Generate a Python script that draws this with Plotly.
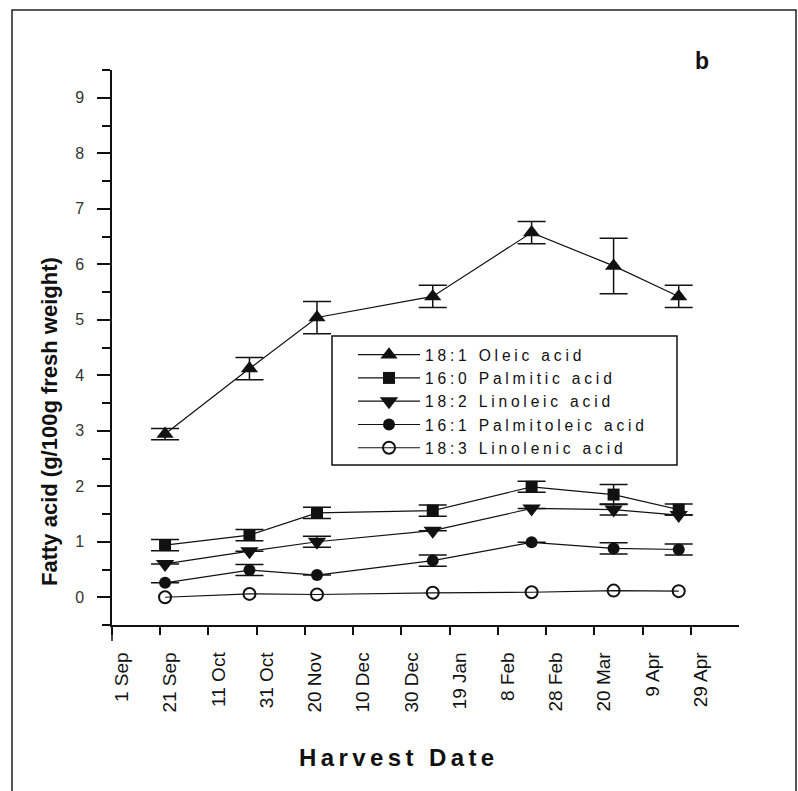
import plotly.graph_objects as go

# ---------------- data ----------------
tick_days = [0, 20, 40, 60, 80, 100, 120, 140, 160, 180, 200, 220, 240]
tick_labels = ["1 Sep", "21 Sep", "11 Oct", "31 Oct", "20 Nov", "10 Dec", "30 Dec",
               "19 Jan", "8 Feb", "28 Feb", "20 Mar", "9 Apr", "29 Apr"]

harvest_day = [22, 57, 85, 133, 174, 208, 235]   # days after 1 Sep

oleic = [2.94, 4.12, 5.04, 5.42, 6.57, 5.97, 5.42]
oleic_err = [0.10, 0.20, 0.29, 0.20, 0.20, 0.50, 0.20]

palmitic = [0.94, 1.12, 1.52, 1.56, 1.99, 1.85, 1.58]
palmitic_err = [0.10, 0.10, 0.10, 0.10, 0.10, 0.18, 0.10]

linoleic = [0.60, 0.83, 1.00, 1.20, 1.60, 1.58, 1.48]
linoleic_err = [None, None, 0.10, None, None, 0.10, None]

palmitoleic = [0.26, 0.49, 0.40, 0.66, 0.99, 0.88, 0.86]
palmitoleic_err = [None, 0.10, None, 0.10, None, 0.10, 0.10]

linolenic = [0.00, 0.06, 0.05, 0.08, 0.09, 0.12, 0.11]

series_names = ["18:1 Oleic acid", "16:0 Palmitic acid", "18:2 Linoleic acid",
                "16:1 Palmitoleic acid", "18:3 Linolenic acid"]
series_values = [oleic, palmitic, linoleic, palmitoleic, linolenic]
series_errors = [oleic_err, palmitic_err, linoleic_err, palmitoleic_err, None]
series_symbols = ["triangle-up", "square", "triangle-down", "circle", "circle-open"]
series_sizes = [15, 12, 16, 12, 12]

FONT = "Arial, Liberation Sans, sans-serif"
INK = "#111"

fig = go.Figure()
for name, vals, errs, sym, size in zip(series_names, series_values, series_errors,
                                       series_symbols, series_sizes):
    tr = dict(
        x=harvest_day, y=vals,
        name='<span style="letter-spacing:3.8px">' + name + '</span>',
        mode="lines+markers",
        line=dict(color=INK, width=1.2),
        marker=dict(symbol=sym, size=size, color=INK,
                    line=dict(color=INK, width=2 if sym == "circle-open" else 0)),
    )
    if errs is not None:
        tr["error_y"] = dict(type="data", array=errs, visible=True,
                             color=INK, thickness=1.5, width=14)
    fig.add_trace(go.Scatter(**tr))

L, R, T, B = 112, 59, 70, 166
W, H = 798, 791
pw, ph = W - L - R, H - T - B

def px_x(px):
    return (px - L) / pw

def px_y(py):
    return (H - B - py) / ph

fig.update_layout(
    width=W, height=H,
    margin=dict(l=L, r=R, t=T, b=B),
    paper_bgcolor="white", plot_bgcolor="white",
    font=dict(family=FONT, color=INK),
    showlegend=True,
    legend=dict(
        x=px_x(353), y=px_y(338), xanchor="left", yanchor="top",
        bgcolor="rgba(0,0,0,0)", borderwidth=0,
        font=dict(family=FONT, size=15.6, color=INK),
        itemwidth=62, tracegroupgap=0,
    ),
    xaxis=dict(
        range=[0, 260], tickmode="array", tickvals=tick_days, ticktext=tick_labels,
        tickangle=-90, ticks="outside", ticklen=8, tickwidth=1.5, tickcolor=INK,
        showline=True, linecolor=INK, linewidth=1.5, showgrid=False, zeroline=False,
        tickfont=dict(family=FONT, size=19, color=INK),
        ticklabelshift=10, ticklabelstandoff=10,
    ),
    yaxis=dict(
        range=[-0.5, 9.5], tickmode="array", tickvals=list(range(10)),
        ticks="outside", ticklen=13, tickwidth=1.5, tickcolor=INK,
        minor=dict(tickmode="linear", tick0=-0.5, dtick=0.5, ticks="outside",
                   ticklen=8, tickwidth=1.5, tickcolor=INK),
        showline=True, linecolor=INK, linewidth=1.5, showgrid=False, zeroline=False,
        tickfont=dict(family=FONT, size=16, color="#333"),
        ticklabelstandoff=10,
    ),
)

# legend frame
fig.add_shape(type="rect", xref="paper", yref="paper",
              x0=px_x(332), x1=px_x(677), y0=px_y(465), y1=px_y(336),
              line=dict(color=INK, width=1.5), layer="above")
# axis crossing extensions
fig.add_shape(type="line", xref="paper", yref="paper",
              x0=0, x1=0, y0=0, y1=px_y(641), line=dict(color=INK, width=1.5))
fig.add_shape(type="line", xref="paper", yref="paper",
              x0=px_x(104), x1=0, y0=0, y1=0, line=dict(color=INK, width=1.5))
# outer frame
fig.add_shape(type="rect", xref="paper", yref="paper",
              x0=px_x(12), x1=px_x(796), y0=px_y(820), y1=px_y(10),
              line=dict(color="#222", width=1.5), layer="above")

fig.add_annotation(text="<b>b</b>", xref="paper", yref="paper",
                   x=px_x(702), y=px_y(61), xanchor="center", yanchor="middle",
                   showarrow=False, font=dict(family=FONT, size=23, color=INK))
fig.add_annotation(text="<b>Fatty acid (g/100g fresh weight)</b>", xref="paper", yref="paper",
                   x=px_x(49), y=px_y(422), xanchor="center", yanchor="middle",
                   showarrow=False, textangle=-90,
                   font=dict(family=FONT, size=22, color=INK))
fig.add_annotation(text='<b><span style="letter-spacing:4.4px">Harvest Date</span></b>',
                   xref="paper", yref="paper",
                   x=px_x(399), y=px_y(757), xanchor="center", yanchor="middle",
                   showarrow=False, font=dict(family=FONT, size=24, color=INK))

fig.write_html("out.html")
